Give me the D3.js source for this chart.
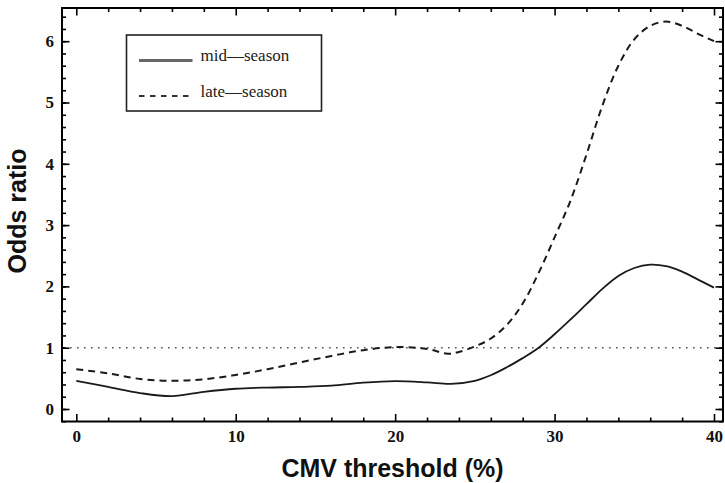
<!DOCTYPE html>
<html>
<head>
<meta charset="utf-8">
<script src="https://cdn.jsdelivr.net/npm/d3@7"></script>
<style>
  html, body { margin: 0; padding: 0; background: #fff; }
  svg { display: block; }
</style>
</head>
<body>
<svg id="chart" width="725" height="483"></svg>
<script>
// ---- data ----
const midX    = [0, 2, 4, 6, 8, 10, 12, 14, 16, 18, 20, 22, 23.5, 25, 26, 27, 28, 29, 30, 31, 32, 33, 34, 35, 36, 37, 38, 39, 40];
const midY    = [0.46, 0.36, 0.26, 0.21, 0.28, 0.33, 0.35, 0.36, 0.38, 0.43, 0.455, 0.435, 0.41, 0.46, 0.55, 0.68, 0.83, 1.0, 1.22, 1.46, 1.71, 1.96, 2.17, 2.3, 2.355, 2.33, 2.24, 2.11, 1.98];
const lateX   = [0, 2, 4, 6, 8, 10, 12, 14, 16, 18, 20, 22, 23.3, 24, 25, 26, 27, 28, 29, 30, 31, 32, 33, 34, 35, 36, 37, 38, 39, 40];
const lateY   = [0.65, 0.58, 0.49, 0.46, 0.485, 0.555, 0.65, 0.76, 0.865, 0.96, 1.01, 0.98, 0.9, 0.93, 1.02, 1.15, 1.37, 1.72, 2.22, 2.8, 3.4, 4.15, 4.95, 5.6, 6.03, 6.25, 6.32, 6.25, 6.12, 6.0];
const seriesNames = ["mid\u2014season", "late\u2014season"];
const xMajorTicks = [0, 10, 20, 30, 40];
const xMinorTicks = [2, 4, 6, 8, 12, 14, 16, 18, 22, 24, 26, 28, 32, 34, 36, 38];
const yMajorTicks = [0, 1, 2, 3, 4, 5, 6];
const yMinorTicks = d3.range(-0.2, 6.5, 0.2).map(v => +v.toFixed(1));
const refLine = 1;
const xTitle = "CMV threshold (%)";
const yTitle = "Odds ratio";

// ---- layout ----
const svg = d3.select("#chart");
const frame = { left: 62, right: 723, top: 8, bottom: 421.5 };
const x = d3.scaleLinear().domain([0, 40]).range([76.3, 714]);
const y = d3.scaleLinear().domain([0, 6]).range([409, 41.2]);

const tickFont = "'Liberation Serif','Times New Roman',serif";
const titleFont = "'Liberation Sans',Arial,sans-serif";

// dotted reference line
svg.append("line")
  .attr("x1", frame.left + 1).attr("x2", frame.right - 1)
  .attr("y1", y(refLine)).attr("y2", y(refLine))
  .attr("stroke", "#555").attr("stroke-width", 1.6)
  .attr("stroke-dasharray", "1.6,5.4");

// lines
const line = d3.line().x(d => x(d[0])).y(d => y(d[1])).curve(d3.curveCatmullRom.alpha(0.5));
const midData = midX.map((v, i) => [v, midY[i]]);
const lateData = lateX.map((v, i) => [v, lateY[i]]);

svg.append("path").datum(midData)
  .attr("d", line).attr("fill", "none")
  .attr("stroke", "#1a1a1a").attr("stroke-width", 1.8);

svg.append("path").datum(lateData)
  .attr("d", line).attr("fill", "none")
  .attr("stroke", "#1a1a1a").attr("stroke-width", 2)
  .attr("stroke-dasharray", "7,5");

// axes (ticks inward)
function styleAxis(g) {
  g.select(".domain").remove();
  g.selectAll(".tick line").attr("stroke", "#000").attr("stroke-width", 1.6);
}
// bottom
svg.append("g").attr("transform", `translate(0,${frame.bottom})`)
  .call(d3.axisBottom(x).tickValues(xMinorTicks).tickSize(-4).tickFormat(""))
  .call(styleAxis);
const bAx = svg.append("g").attr("transform", `translate(0,${frame.bottom})`)
  .call(d3.axisBottom(x).tickValues(xMajorTicks).tickSize(-7.5).tickPadding(8.5).tickFormat(d3.format("d")))
  .call(styleAxis);
bAx.selectAll("text").attr("font-family", tickFont).attr("font-weight", "bold")
  .attr("font-size", 17).attr("fill", "#111");
// top
svg.append("g").attr("transform", `translate(0,${frame.top})`)
  .call(d3.axisTop(x).tickValues(xMinorTicks).tickSize(-4).tickFormat(""))
  .call(styleAxis);
svg.append("g").attr("transform", `translate(0,${frame.top})`)
  .call(d3.axisTop(x).tickValues(xMajorTicks).tickSize(-7.5).tickFormat(""))
  .call(styleAxis);
// left
svg.append("g").attr("transform", `translate(${frame.left},0)`)
  .call(d3.axisLeft(y).tickValues(yMinorTicks).tickSize(-4).tickFormat(""))
  .call(styleAxis);
const lAx = svg.append("g").attr("transform", `translate(${frame.left},0)`)
  .call(d3.axisLeft(y).tickValues(yMajorTicks).tickSize(-7.5).tickPadding(8).tickFormat(d3.format("d")))
  .call(styleAxis);
lAx.selectAll("text").attr("font-family", tickFont).attr("font-weight", "bold")
  .attr("font-size", 17).attr("fill", "#111");
// right
svg.append("g").attr("transform", `translate(${frame.right},0)`)
  .call(d3.axisRight(y).tickValues(yMinorTicks).tickSize(-4).tickFormat(""))
  .call(styleAxis);
svg.append("g").attr("transform", `translate(${frame.right},0)`)
  .call(d3.axisRight(y).tickValues(yMajorTicks).tickSize(-7.5).tickFormat(""))
  .call(styleAxis);

// frame
svg.append("rect")
  .attr("x", frame.left).attr("y", frame.top)
  .attr("width", frame.right - frame.left).attr("height", frame.bottom - frame.top)
  .attr("fill", "none").attr("stroke", "#000").attr("stroke-width", 2);

// titles
svg.append("text")
  .attr("x", (frame.left + frame.right) / 2).attr("y", 477)
  .attr("text-anchor", "middle")
  .attr("font-family", titleFont).attr("font-weight", "bold").attr("font-size", 25)
  .attr("fill", "#111").text(xTitle);
svg.append("text")
  .attr("transform", "translate(26,211) rotate(-90)")
  .attr("text-anchor", "middle")
  .attr("font-family", titleFont).attr("font-weight", "bold").attr("font-size", 25)
  .attr("fill", "#111").text(yTitle);

// legend
const lg = svg.append("g");
lg.append("rect").attr("x", 126.5).attr("y", 35).attr("width", 195).attr("height", 76)
  .attr("fill", "#fff").attr("stroke", "#222").attr("stroke-width", 1.6);
lg.append("line").attr("x1", 139).attr("x2", 192.5).attr("y1", 60.5).attr("y2", 60.5)
  .attr("stroke", "#666").attr("stroke-width", 3);
lg.append("line").attr("x1", 139).attr("x2", 193).attr("y1", 96).attr("y2", 96)
  .attr("stroke", "#333").attr("stroke-width", 1.8).attr("stroke-dasharray", "5.5,5.5");
lg.selectAll("text.leg").data(seriesNames).join("text")
  .attr("class", "leg")
  .attr("x", 200.5).attr("y", (d, i) => i === 0 ? 60.5 : 96.5)
  .attr("font-family", tickFont).attr("font-size", 17).attr("fill", "#222")
  .text(d => d);
</script>
</body>
</html>
